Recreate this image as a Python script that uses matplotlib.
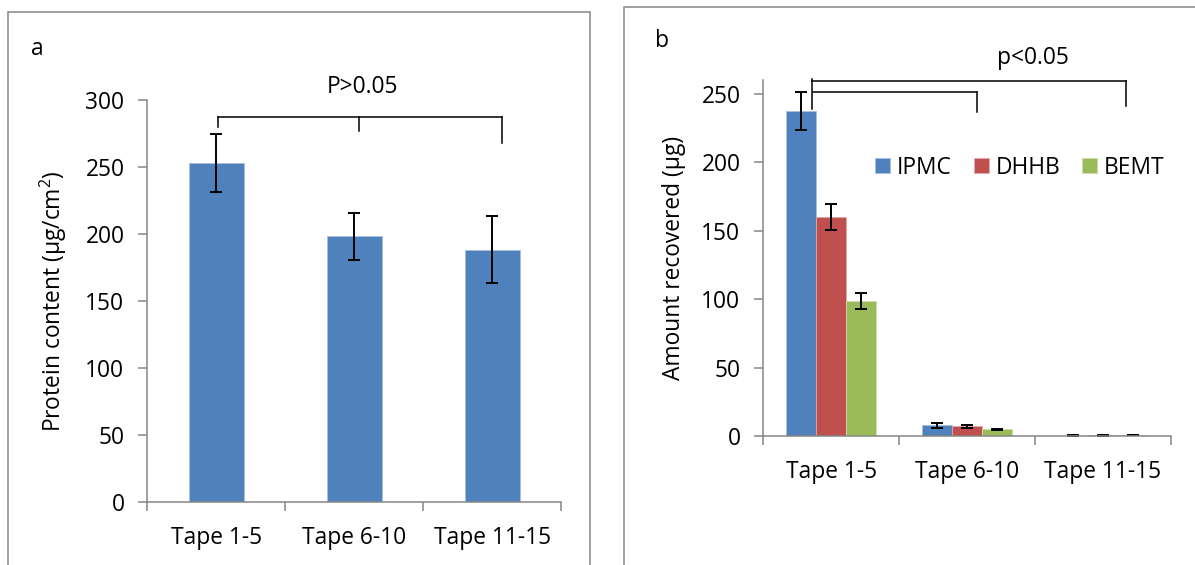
import numpy as np
import matplotlib
matplotlib.use('Agg')
import matplotlib.pyplot as plt
from matplotlib.patches import Rectangle

plt.rcParams['font.family'] = ['Open Sans', 'DejaVu Sans']
plt.rcParams['mathtext.fontset'] = 'custom'
plt.rcParams['mathtext.rm'] = 'Open Sans'
plt.rcParams['mathtext.it'] = 'Open Sans'
plt.rcParams['mathtext.default'] = 'regular'

# Panel a data
tapes = ['Tape 1-5', 'Tape 6-10', 'Tape 11-15']
protein = [253, 198.5, 188.5]
protein_err = [21.8, 17.5, 25]

# Panel b data
series = ['IPMC', 'DHHB', 'BEMT']
ipmc = [237.6, 7.8, 0.3]
ipmc_err = [14, 1.7, 0.2]
dhhb = [160, 7, 0.4]
dhhb_err = [9.2, 1.3, 0.2]
bemt = [98.4, 4.9, 0.7]
bemt_err = [5.8, 0.5, 0.3]

colors = ['#4F81BD', '#C0504D', '#9BBB59']
light = ['#a9c1e0', '#e0a9a7', '#cddcac']
fs = 16.4
axis_grey = '#868686'
W, H = 1195, 565

fig = plt.figure(figsize=(W / 100, H / 100), dpi=100)

# panel frames (chart area borders)
fig.patches.append(Rectangle((7.7 / W, -0.05), (590 - 7.7) / W, 1 - 11.7 / H + 0.05,
                             transform=fig.transFigure, fill=False,
                             edgecolor='#909090', lw=1.2))
fig.patches.append(Rectangle((624 / W, -0.05), 0.5, 1 - 7.3 / H + 0.05,
                             transform=fig.transFigure, fill=False,
                             edgecolor='#909090', lw=1.2))


def style_axes(ax):
    for s in ['top', 'right']:
        ax.spines[s].set_visible(False)
    for s in ['left', 'bottom']:
        ax.spines[s].set_color(axis_grey)
        ax.spines[s].set_linewidth(1.1)
    ax.set_xlim(-0.5, 2.5)
    ax.set_xticks(range(3))
    ax.set_xticklabels(tapes, fontsize=fs)
    ax.set_xticks([-0.5, 0.5, 1.5, 2.5], minor=True)
    ax.tick_params(axis='x', which='major', length=0, pad=17)
    ax.tick_params(axis='x', which='minor', length=6.5, width=1.1, color=axis_grey, direction='out')
    ax.tick_params(axis='y', length=6.5, width=1.1, color=axis_grey, direction='out', pad=10, labelsize=fs)


# ---------------- panel a ----------------
ax1 = fig.add_axes([147.3 / W, 1 - 502.3 / H, 414 / W, 402.3 / H])
x = np.arange(len(tapes))
ax1.bar(x, protein, width=0.4, color=colors[0], edgecolor=light[0], linewidth=0.6)
ax1.errorbar(x, protein, yerr=protein_err, fmt='none', ecolor='black',
             elinewidth=1.4, capsize=4.1, capthick=1.4)
ax1.set_ylim(0, 300)
ax1.set_yticks(range(0, 301, 50))
style_axes(ax1)
ax1.set_ylabel('Protein content (μg/cm$^2$)', fontsize=fs)
ax1.yaxis.set_label_coords(-0.19, 0.5)

# significance bracket
ax1.plot([0.01, 2.07], [287.3, 287.3], color='black', lw=1.1, clip_on=False)
ax1.plot([0.01, 0.01], [287.3, 280], color='black', lw=1.1)
ax1.plot([1.035, 1.035], [287.3, 277], color='black', lw=1.1)
ax1.plot([2.07, 2.07], [287.3, 268], color='black', lw=1.1)
ax1.text(1.057, 310, 'P>0.05', ha='center', va='center', fontsize=fs)
fig.text(37 / W, 1 - 49 / H, 'a', ha='center', va='center', fontsize=fs)

# ---------------- panel b ----------------
ax2 = fig.add_axes([763.3 / W, 1 - 436 / H, 407.4 / W, 356 / H])
w = 0.222
vals = [ipmc, dhhb, bemt]
errs = [ipmc_err, dhhb_err, bemt_err]
for i, (v, e) in enumerate(zip(vals, errs)):
    pos = x + (i - 1) * w
    ax2.bar(pos, v, width=w, color=colors[i], edgecolor=light[i], linewidth=0.6,
            label=series[i])
    ax2.errorbar(pos, v, yerr=e, fmt='none', ecolor='black',
                 elinewidth=1.4, capsize=4.1, capthick=1.4)
ax2.set_ylim(0, 260)
ax2.set_yticks(range(0, 251, 50))
style_axes(ax2)
ax2.set_ylabel('Amount recovered (μg)', fontsize=fs)
ax2.yaxis.set_label_coords(-0.19, 0.5)

# significance brackets
ax2.plot([-0.142, 2.17], [259.6, 259.6], color='black', lw=1.1, clip_on=False)
ax2.plot([-0.142, -0.142], [261, 239], color='black', lw=1.1, clip_on=False)
ax2.plot([2.17, 2.17], [259.6, 240.7], color='black', lw=1.1, clip_on=False)
ax2.plot([-0.135, 1.071], [251, 251], color='black', lw=1.1, clip_on=False)
ax2.plot([1.071, 1.071], [251, 236.6], color='black', lw=1.1)
ax2.text(1.485, 276, 'p<0.05', ha='center', va='center', fontsize=fs, clip_on=False)
fig.text(662.3 / W, 1 - 40.7 / H, 'b', ha='center', va='center', fontsize=fs)

ax2.legend(loc='center left', bbox_to_anchor=(0.274, 0.754), ncol=3, frameon=False,
           fontsize=fs, handlelength=0.66, handleheight=0.66, handletextpad=0.29,
           columnspacing=0.98, borderpad=0, borderaxespad=0)

plt.savefig('out.png', dpi=100)
